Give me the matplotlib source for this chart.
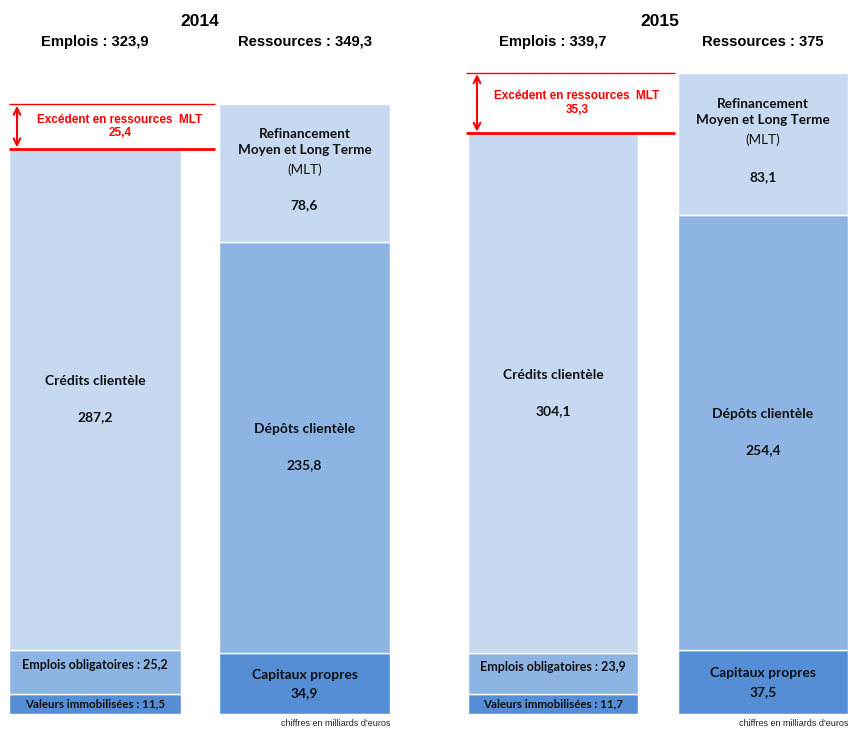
import matplotlib
matplotlib.use("Agg")
import matplotlib.pyplot as plt

# ---------------- data ----------------
years = ["2014", "2015"]
valeurs_immobilisees = [11.5, 11.7]
emplois_obligatoires = [25.2, 23.9]
credits_clientele = [287.2, 304.1]
capitaux_propres = [34.9, 37.5]
depots_clientele = [235.8, 254.4]
refinancement_mlt = [78.6, 83.1]
footnote = "chiffres en milliards d'euros"

# ---------------- style ----------------
C_LIGHT = "#C6D9F1"
C_MED = "#8EB4E3"
C_DARK = "#558ED5"
RED = "#FF0000"
HEAD_FONT = "Liberation Sans"
BAR_FONT = "Lato"

W, H = 848, 729
fig = plt.figure(figsize=(W / 100, H / 100), dpi=100)


def fmt(v):
    s = f"{v:.1f}".replace(".", ",")
    return s[:-2] if s.endswith(",0") else s


panels = [
    dict(left=9, right=390, scale=1.745, c0=95, sp=209.5, width=0.82, arrow_x=17, exc_x=120, title_x=200),
    dict(left=466, right=848, scale=1.71, c0=553, sp=210.0, width=0.81, arrow_x=477, exc_x=577, title_x=660),
]
BOTTOM_PX = 714
TOP_PX = 55

for i, p in enumerate(panels):
    ax = fig.add_axes([p["left"] / W, (H - BOTTOM_PX) / H,
                       (p["right"] - p["left"]) / W, (BOTTOM_PX - TOP_PX) / H])
    ax.set_xlim((p["left"] - p["c0"]) / p["sp"], 1 + (p["right"] - p["c0"] - p["sp"]) / p["sp"])
    ax.set_ylim(0, (BOTTOM_PX - TOP_PX) / p["scale"])
    ax.axis("off")
    bw = p["width"]

    # Emplois stack
    vi, eo, cc = valeurs_immobilisees[i], emplois_obligatoires[i], credits_clientele[i]
    ax.bar(0, vi, width=bw, color=C_DARK, edgecolor="white", linewidth=1)
    ax.bar(0, eo, bottom=vi, width=bw, color=C_MED, edgecolor="white", linewidth=1)
    ax.bar(0, cc, bottom=vi + eo, width=bw, color=C_LIGHT, edgecolor="white", linewidth=1)
    tot_e = vi + eo + cc

    # Ressources stack
    cp, dc, rf = capitaux_propres[i], depots_clientele[i], refinancement_mlt[i]
    ax.bar(1, cp, width=bw, color=C_DARK, edgecolor="white", linewidth=1)
    ax.bar(1, dc, bottom=cp, width=bw, color=C_MED, edgecolor="white", linewidth=1)
    ax.bar(1, rf, bottom=cp + dc, width=bw, color=C_LIGHT, edgecolor="white", linewidth=1)
    tot_r = cp + dc + rf

    bk = dict(family=BAR_FONT, fontweight="bold", color="#111111", ha="center", va="center")

    # Emplois labels
    ax.text(0, vi / 2, f"Valeurs immobilisées : {fmt(vi)}", fontsize=8.3, **bk)
    ax.annotate(f"Emplois obligatoires : {fmt(eo)}", (0, vi + eo / 2), xytext=(0, 5),
                textcoords="offset points", fontsize=9, **bk)
    yc = vi + eo + cc / 2
    ax.annotate("Crédits clientèle", (0, yc), xytext=(0, 13), textcoords="offset points", fontsize=10, **bk)
    ax.annotate(fmt(cc), (0, yc), xytext=(0, -13), textcoords="offset points", fontsize=10, **bk)

    # Ressources labels
    ax.annotate("Capitaux propres", (1, cp / 2), xytext=(0, 6.5), textcoords="offset points", fontsize=10, **bk)
    ax.annotate(fmt(cp), (1, cp / 2), xytext=(0, -7), textcoords="offset points", fontsize=10, **bk)
    yd = cp + dc / 2
    ax.annotate("Dépôts clientèle", (1, yd), xytext=(0, 13), textcoords="offset points", fontsize=10, **bk)
    ax.annotate(fmt(dc), (1, yd), xytext=(0, -13), textcoords="offset points", fontsize=10, **bk)
    yr = cp + dc
    ax.annotate("Refinancement\nMoyen et Long Terme", (1, yr + rf * 0.655), xytext=(0, 7),
                textcoords="offset points", fontsize=9.7, linespacing=1.35, **bk)
    ax.annotate("(MLT)", (1, yr + rf * 0.655), xytext=(0, -13), textcoords="offset points",
                fontsize=9.7, family=BAR_FONT, color="#111111", ha="center", va="center")
    ax.text(1, yr + rf * 0.265, fmt(rf), fontsize=10, **bk)

    # Excédent lines & arrow
    x_left = ax.get_xlim()[0]
    x_line_end = 1 - bw / 2 - 0.015
    ax.hlines(tot_r, x_left, x_line_end, color=RED, linewidth=1.0)
    ax.hlines(tot_e, x_left, x_line_end, color=RED, linewidth=2.0)
    ax_x = (p["arrow_x"] - p["c0"]) / p["sp"]
    ax.annotate("", xy=(ax_x, tot_r), xytext=(ax_x, tot_e),
                arrowprops=dict(arrowstyle="<->", color=RED, lw=1.5, shrinkA=1, shrinkB=1,
                                mutation_scale=12))
    ex_x = (p["exc_x"] - p["c0"]) / p["sp"]
    ax.text(ex_x, (tot_r + tot_e) / 2, f"Excédent en ressources  MLT\n{fmt(tot_r - tot_e)}",
            fontsize=8.5, family=HEAD_FONT, fontweight="bold", color=RED,
            ha="center", va="center", linespacing=1.15)

    # Headers
    fig.text(p["title_x"] / W, 1 - 22 / H, years[i], fontsize=12.5, family=HEAD_FONT,
             fontweight="bold", ha="center", va="center")
    fig.text(p["c0"] / W, 1 - 42 / H, f"Emplois : {fmt(tot_e)}", fontsize=10.6, family=HEAD_FONT,
             fontweight="bold", ha="center", va="center")
    fig.text((p["c0"] + p["sp"]) / W, 1 - 42 / H, f"Ressources : {fmt(tot_r)}", fontsize=10.6,
             family=HEAD_FONT, fontweight="bold", ha="center", va="center")
    fig.text(p["right"] / W, 1 - 724 / H, footnote, fontsize=6.5, family=HEAD_FONT,
             ha="right", va="center", color="#222222")

fig.savefig("out.png", dpi=100)
